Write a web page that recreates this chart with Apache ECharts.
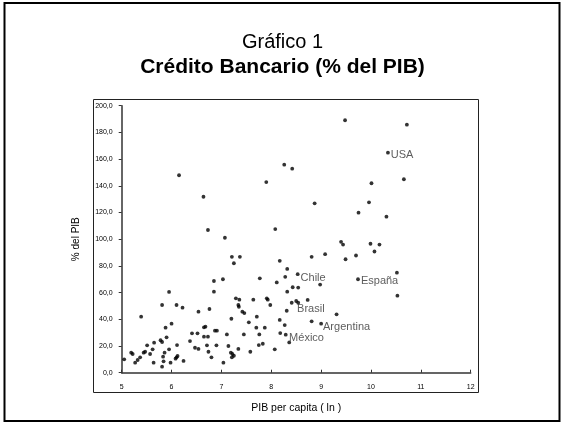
<!DOCTYPE html>
<html>
<head>
<meta charset="utf-8">
<script src="https://cdn.jsdelivr.net/npm/echarts@6/dist/echarts.min.js"></script>
<style>
  html, body { margin: 0; padding: 0; background: #fff; }
  #main { width: 565px; height: 424px; }
</style>
</head>
<body>
<div id="main"></div>
<script>
// ln PIB per capita, credito bancario (% del PIB)
let pibLn = [
	6.15, 6.64, 6.73, 7.07,
	5.05, 5.19, 5.22, 5.27, 5.32, 5.37, 5.39, 5.44, 5.47, 5.51, 5.57, 5.62, 5.65, 5.64,
	5.78, 5.81, 5.81, 5.81, 5.84, 5.83, 5.88, 5.86, 5.90, 5.95, 5.95, 6.00, 5.98,
	6.08, 6.10, 6.12, 6.11, 6.10, 6.22, 6.24, 6.37, 6.41, 6.47, 6.52, 6.54, 6.54,
	6.65, 6.68, 6.65, 6.73, 6.71, 6.74, 6.76, 6.80, 6.87, 6.91, 6.85, 6.85, 6.90, 7.04, 7.03,
	7.11, 7.14, 7.19, 7.22, 7.25, 7.21, 7.20, 7.29, 7.36, 7.34, 7.35, 7.42, 7.46, 7.34,
	7.45, 7.55, 7.58, 7.64, 7.70, 7.71, 7.76, 7.75, 7.83, 7.87, 7.91, 7.93, 7.98,
	8.07, 8.11, 8.17, 8.18, 8.27, 8.29, 8.32, 8.31, 8.41, 8.43, 8.54,
	8.73, 8.81, 8.98, 7.21, 7.37, 7.25, 7.77, 8.17, 8.32, 8.28, 8.54,
	8.81, 9.08, 9.40, 9.44, 9.49, 9.70, 9.99, 10.07, 10.17, 9.31, 10.52, 10.53,
	9.96, 9.75, 10.31, 10.72, 10.66, 10.01, 9.48, 8.26, 8.42, 7.90, 8.87, 8.08
];
let credito = [
	147.9, 131.8, 106.9, 101.1,
	10, 15, 14, 7.5, 9.5, 11.5, 42, 15, 15.7, 20.5, 14, 17.5, 22.5, 7.5,
	24.3, 50.7, 23, 4.5, 8.5, 12, 33.7, 15, 26.5, 60.5, 17.5, 36.7, 7.5,
	10.5, 11.5, 12.5, 20.7, 50.7, 48.7, 8.8, 23.7, 29.5, 18.7, 29.5, 17.8, 45.7,
	34, 34.5, 27, 27, 20.5, 15.7, 47.7, 11.5, 31.5, 31.5, 60.7, 68.7, 20.5, 7.5, 70,
	28.7, 20, 15, 14, 12.7, 11.5, 40.4, 55.7, 54.7, 50.7, 49.4, 45.7, 44.7, 17.8,
	28.7, 37.7, 15.7, 54.7, 33.7, 42, 28.7, 20.7, 21.7, 33.7, 55.7, 54.7, 50.7,
	17.5, 67.6, 39.5, 29.7, 35.7, 28.5, 60.7, 46.4, 52.4, 64, 52.4,
	54.5, 38.5, 66, 86.8, 86.8, 82, 70.7, 83.8, 77.7, 71.8, 63.8,
	86.8, 88.8, 98, 96, 85, 87.8, 96.6, 90.8, 96, 43.7, 74.9, 57.7,
	127.6, 119.9, 116.9, 185.8, 144.9, 141.9, 189.1, 155.8, 152.8, 142.8, 126.9, 107.6
];

// paises con etiqueta
let paises = ['USA', 'Chile', 'España', 'Brasil', 'Argentina', 'México'];
let paisesLn = [10.34, 8.53, 9.74, 8.50, 9.00, 8.36];
let paisesCredito = [164.8, 73.8, 70, 53.7, 36.7, 22.7];
let labelOffsets = [[0, 2], [0, 4], [0, 2], [-2, 8], [-1, 3], [-3, -4]];

let xTicks = [5, 12, 1];
let yTicks = [0, 200, 20];

let chartDom = document.getElementById('main');
let myChart = echarts.init(chartDom);

let font = '"Liberation Sans", Arial, sans-serif';

let points = pibLn.map((x, i) => [x, credito[i]]);
let labeled = paises.map((name, i) => ({
	name: name,
	value: [paisesLn[i], paisesCredito[i]],
	label: {
		show: true,
		position: 'right',
		distance: 1,
		offset: labelOffsets[i],
		formatter: '{b}',
		color: '#333',
		fontSize: 11,
		fontFamily: font
	}
}));

let option = {
	animation: false,
	backgroundColor: '#fff',
	textStyle: { fontFamily: font },
	title: [
		{
			text: 'Gráfico 1',
			left: 'center',
			top: 27,
			textStyle: { fontSize: 20, fontWeight: 'normal', color: '#000', fontFamily: font }
		},
		{
			text: 'Crédito Bancario (% del PIB)',
			left: 'center',
			top: 52,
			textStyle: { fontSize: 21, fontWeight: 'bold', color: '#000', fontFamily: font }
		}
	],
	graphic: [
		{
			type: 'rect',
			shape: { x: 4.5, y: 3, width: 555, height: 418 },
			style: { fill: 'none', stroke: '#000', lineWidth: 2 }
		},
		{
			type: 'rect',
			shape: { x: 93.5, y: 99.5, width: 385, height: 293 },
			style: { fill: 'none', stroke: '#222', lineWidth: 1 }
		}
	],
	grid: {
		left: 121.7,
		right: 94.3,
		top: 105.7,
		bottom: 51.3
	},
	xAxis: {
		type: 'value',
		min: xTicks[0],
		max: xTicks[1],
		interval: xTicks[2],
		name: 'PIB per capita ( ln )',
		nameLocation: 'middle',
		nameGap: 30,
		nameTextStyle: { fontSize: 10.5, color: '#000', fontFamily: font },
		splitLine: { show: false },
		axisLine: { lineStyle: { color: '#333', width: 1.5 } },
		axisTick: { inside: true, length: 3, lineStyle: { color: '#333' } },
		axisLabel: { fontSize: 7, color: '#000', margin: 11, fontFamily: font }
	},
	yAxis: {
		type: 'value',
		min: yTicks[0],
		max: yTicks[1],
		interval: yTicks[2],
		name: '% del PIB',
		nameLocation: 'middle',
		nameRotate: 90,
		nameGap: 40,
		nameTextStyle: { fontSize: 10, color: '#000', fontFamily: font },
		splitLine: { show: false },
		axisLine: { show: true, lineStyle: { color: '#333', width: 1.5 } },
		axisTick: { show: true, length: 3, lineStyle: { color: '#333' } },
		axisLabel: {
			fontSize: 7,
			color: '#000',
			margin: 9,
			fontFamily: font,
			formatter: (v) => v.toFixed(1).replace('.', ',')
		}
	},
	series: [
		{
			type: 'scatter',
			symbol: 'circle',
			symbolSize: 3.8,
			itemStyle: { color: '#000' },
			data: points
		},
		{
			type: 'scatter',
			symbol: 'circle',
			symbolSize: 3.8,
			itemStyle: { color: '#000' },
			data: labeled
		}
	]
};

myChart.setOption(option);
</script>
</body>
</html>
